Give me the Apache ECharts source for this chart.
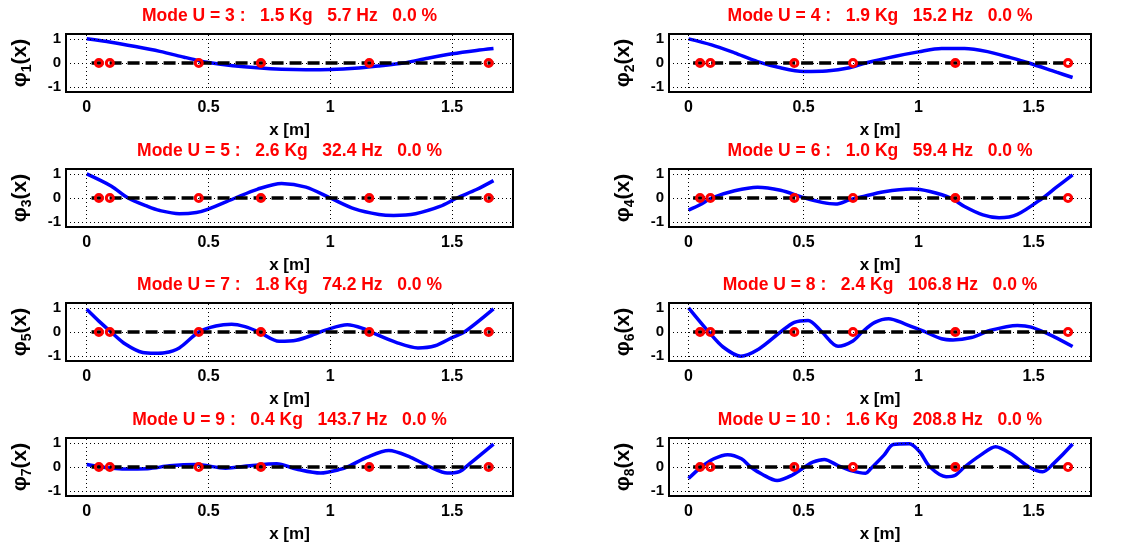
<!DOCTYPE html>
<html>
<head>
<meta charset="utf-8">
<script src="https://cdn.jsdelivr.net/npm/echarts@6/dist/echarts.min.js"></script>
<style>
  html, body { margin: 0; padding: 0; background: #fff; }
  #chart { width: 1144px; height: 545px; }
</style>
</head>
<body>
<div id="chart"></div>
<script>
// mode numbers and title values
var modeU = [3, 4, 5, 6, 7, 8, 9, 10];
var massKg = ['1.5', '1.9', '2.6', '1.0', '1.8', '2.4', '0.4', '1.6'];
var freqHz = ['5.7', '15.2', '32.4', '59.4', '74.2', '106.8', '143.7', '208.8'];
var dampPct = ['0.0', '0.0', '0.0', '0.0', '0.0', '0.0', '0.0', '0.0'];

// sensor positions along the beam [m]
var sensorX = [0.05, 0.095, 0.46, 0.715, 1.16, 1.65];
var zeroLineX = [0.02, 1.67];

var xTicks = [0, 0.5, 1, 1.5];
var yTicks = [-1, 0, 1];

// mode shapes [x, phi]
var phi1 = [[0, 1.0], [0.1, 0.86], [0.2, 0.68], [0.3, 0.48], [0.4, 0.24], [0.46, 0.1], [0.5, 0.02], [0.6, -0.11], [0.7, -0.2], [0.8, -0.26], [0.9, -0.28], [1.0, -0.27], [1.1, -0.22], [1.2, -0.12], [1.3, 0.0], [1.4, 0.2], [1.5, 0.38], [1.6, 0.52], [1.67, 0.6]];
var phi2 = [[0, 1.0], [0.1, 0.75], [0.2, 0.42], [0.3, 0.06], [0.4, -0.2], [0.5, -0.35], [0.6, -0.33], [0.7, -0.2], [0.77, 0.0], [0.9, 0.28], [1.0, 0.46], [1.1, 0.6], [1.2, 0.6], [1.3, 0.47], [1.4, 0.22], [1.48, 0.0], [1.6, -0.38], [1.67, -0.6]];
var phi3 = [[0, 1.0], [0.1, 0.5], [0.17, 0.0], [0.25, -0.35], [0.3, -0.52], [0.38, -0.65], [0.45, -0.6], [0.5, -0.46], [0.61, 0.0], [0.7, 0.36], [0.8, 0.6], [0.9, 0.45], [1.0, 0.0], [1.1, -0.45], [1.2, -0.68], [1.26, -0.72], [1.35, -0.65], [1.45, -0.35], [1.52, 0.0], [1.6, 0.35], [1.67, 0.72]];
var phi4 = [[0, -0.5], [0.05, -0.28], [0.1, 0.0], [0.2, 0.3], [0.3, 0.45], [0.4, 0.32], [0.5, 0.02], [0.58, -0.18], [0.64, -0.25], [0.7, -0.08], [0.75, 0.04], [0.85, 0.26], [0.97, 0.37], [1.05, 0.27], [1.14, 0.0], [1.2, -0.35], [1.28, -0.7], [1.35, -0.82], [1.43, -0.68], [1.54, 0.0], [1.6, 0.45], [1.67, 0.96]];
var phi5 = [[0, 0.94], [0.05, 0.45], [0.1, 0.0], [0.16, -0.51], [0.23, -0.85], [0.28, -0.88], [0.32, -0.86], [0.38, -0.66], [0.46, 0.0], [0.53, 0.25], [0.595, 0.32], [0.65, 0.22], [0.707, 0.0], [0.79, -0.38], [0.86, -0.34], [0.94, -0.08], [0.98, 0.08], [1.07, 0.3], [1.14, 0.13], [1.18, -0.06], [1.27, -0.43], [1.36, -0.66], [1.43, -0.57], [1.5, -0.23], [1.55, 0.0], [1.67, 0.96]];
var phi6 = [[0, 1.0], [0.088, 0.0], [0.15, -0.62], [0.227, -1.0], [0.306, -0.7], [0.4, 0.0], [0.46, 0.4], [0.52, 0.48], [0.58, 0.0], [0.65, -0.59], [0.715, -0.37], [0.755, 0.0], [0.81, 0.4], [0.87, 0.55], [0.94, 0.34], [1.03, 0.0], [1.1, -0.28], [1.15, -0.33], [1.23, -0.23], [1.31, 0.06], [1.43, 0.27], [1.49, 0.2], [1.59, -0.2], [1.67, -0.6]];
var phi7 = [[0, 0.1], [0.145, -0.08], [0.25, -0.07], [0.34, 0.05], [0.45, 0.1], [0.57, -0.05], [0.67, 0.05], [0.78, 0.13], [0.86, -0.08], [0.96, -0.25], [1.04, -0.1], [1.08, 0.05], [1.15, 0.4], [1.24, 0.68], [1.33, 0.4], [1.41, 0.0], [1.48, -0.25], [1.53, -0.19], [1.57, 0.12], [1.67, 0.95]];
var phi8 = [[0, -0.48], [0.055, 0.0], [0.11, 0.34], [0.17, 0.51], [0.23, 0.34], [0.27, 0.0], [0.32, -0.3], [0.385, -0.56], [0.45, -0.34], [0.505, 0.0], [0.54, 0.2], [0.59, 0.31], [0.65, 0.06], [0.71, -0.16], [0.77, -0.26], [0.79, -0.09], [0.85, 0.49], [0.89, 0.93], [0.96, 0.96], [1.005, 0.63], [1.05, 0.0], [1.12, -0.4], [1.16, -0.34], [1.2, 0.0], [1.27, 0.49], [1.335, 0.84], [1.4, 0.56], [1.48, 0.0], [1.54, -0.2], [1.586, 0.13], [1.67, 0.95]];

var shapes = [phi1, phi2, phi3, phi4, phi5, phi6, phi7, phi8];

var FONT = 'Liberation Sans, Arial, Helvetica, sans-serif';

function setup(container) {
    var colLeft = [66, 669];
    var colWidth = [447, 422];
    var rowTop = [34, 169, 303, 438];
    var boxH = 58;

    var chart = echarts.init(container);
    var grids = [], xAxes = [], yAxes = [], series = [], titles = [];

    for (var i = 0; i < shapes.length; i++) {
        var col = i % 2;
        var row = Math.floor(i / 2);
        var gx = colLeft[col];
        var gy = rowTop[row];
        var gw = colWidth[col];

        grids.push({
            left: gx, top: gy, width: gw, height: boxH,
            show: true, borderColor: '#000', borderWidth: 2, backgroundColor: '#fff'
        });

        titles.push({
            text: 'Mode U = ' + modeU[i] + ' :   ' + massKg[i] + ' Kg   ' + freqHz[i] + ' Hz   ' + dampPct[i] + ' %',
            left: gx + gw / 2,
            top: gy - 27,
            textAlign: 'center',
            padding: 0,
            textStyle: { color: '#ff0000', fontWeight: 'bold', fontSize: 17.5, fontFamily: FONT }
        });

        xAxes.push({
            gridIndex: i, type: 'value', min: -0.085, max: 1.75,
            name: 'x [m]', nameLocation: 'middle', nameGap: 30,
            nameTextStyle: { color: '#000', fontWeight: 'bold', fontSize: 17, fontFamily: FONT },
            axisLine: { show: false },
            axisTick: { show: false },
            splitLine: { show: false },
            axisLabel: { customValues: xTicks, margin: 8, color: '#000', fontWeight: 'bold', fontSize: 16, fontFamily: FONT }
        });

        yAxes.push({
            gridIndex: i, type: 'value', min: -1.2, max: 1.2,
            name: '{a|\u03c6}{s|' + (i + 1) + '}{a|(x)}',
            nameLocation: 'middle', nameRotate: 90, nameGap: 32,
            nameTextStyle: {
                rich: {
                    a: { fontSize: 21, fontWeight: 'bold', fontFamily: FONT, lineHeight: 28, color: '#000' },
                    s: { fontSize: 14, fontWeight: 'bold', fontFamily: FONT, lineHeight: 14, verticalAlign: 'bottom', color: '#000' }
                }
            },
            axisLine: { show: false },
            axisTick: { show: false },
            splitLine: { show: false },
            axisLabel: { customValues: yTicks, margin: 5, color: '#000', fontWeight: 'bold', fontSize: 15, fontFamily: FONT }
        });

        // dotted grid at the tick values
        var gl = [];
        xTicks.forEach(function (v) { gl.push({ xAxis: v }); });
        yTicks.forEach(function (v) { gl.push({ yAxis: v }); });
        series.push({
            type: 'line', xAxisIndex: i, yAxisIndex: i, data: [[0, 0]], z: 1, silent: true,
            symbol: 'none', lineStyle: { width: 0 },
            markLine: {
                silent: true, symbol: 'none', label: { show: false },
                lineStyle: { color: '#000', width: 1, type: [1, 3] },
                data: gl
            }
        });

        // mode shape
        series.push({
            type: 'line', xAxisIndex: i, yAxisIndex: i, data: shapes[i], z: 3,
            symbol: 'none', smooth: 0.3, silent: true,
            lineStyle: { color: '#0000ff', width: 3.5 }
        });

        // zero line
        series.push({
            type: 'line', xAxisIndex: i, yAxisIndex: i, z: 4,
            data: [[zeroLineX[0], 0], [zeroLineX[1], 0]],
            symbol: 'none', silent: true,
            lineStyle: { color: '#000', width: 3.5, type: [12, 6] }
        });

        // sensors
        series.push({
            type: 'scatter', xAxisIndex: i, yAxisIndex: i, z: 5, silent: true,
            data: sensorX.map(function (x) { return [x, 0]; }),
            symbol: 'circle', symbolSize: 7,
            itemStyle: { color: 'rgba(0,0,0,0)', borderColor: '#ff0000', borderWidth: 3, opacity: 1 }
        });
    }

    chart.setOption({
        animation: false,
        backgroundColor: '#fff',
        title: titles,
        grid: grids,
        xAxis: xAxes,
        yAxis: yAxes,
        series: series
    });
}

setup(document.getElementById('chart'));
</script>
</body>
</html>
